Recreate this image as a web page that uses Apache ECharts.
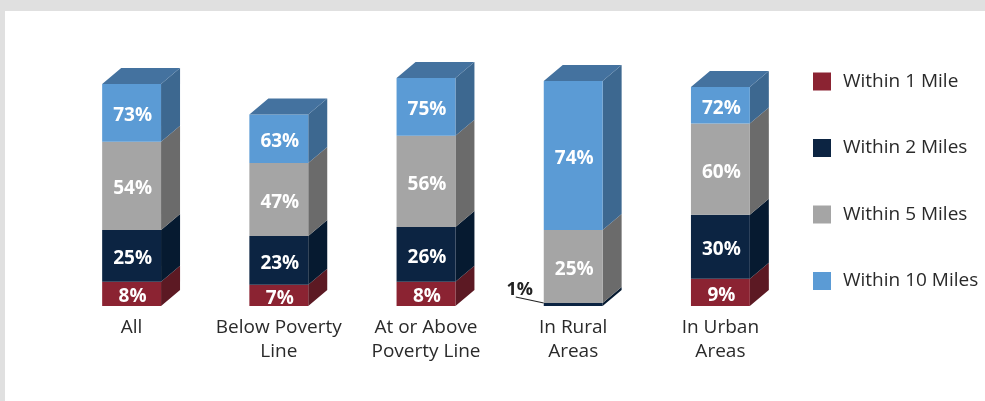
<!DOCTYPE html>
<html>
<head>
<meta charset="utf-8">
<script src="https://cdn.jsdelivr.net/npm/echarts@6/dist/echarts.min.js"></script>
<style>
html,body{margin:0;padding:0;background:#e0e0e0;}
#panel{position:absolute;left:5px;top:11px;width:980px;height:390px;background:#fff;}
#chart{position:absolute;left:0;top:0;width:985px;height:401px;}
</style>
</head>
<body>
<div id="panel"></div>
<div id="chart"></div>
<script>
// Categories and cumulative percentages
const categories = ['All', 'Below Poverty\nLine', 'At or Above\nPoverty Line', 'In Rural\nAreas', 'In Urban\nAreas'];
const seriesNames = ['Within 1 Mile', 'Within 2 Miles', 'Within 5 Miles', 'Within 10 Miles'];
const within1Mile = [8, 7, 8, 0, 9];
const within2Miles = [25, 23, 26, 1, 30];
const within5Miles = [54, 47, 56, 25, 60];
const within10Miles = [73, 63, 75, 74, 72];

const cumulative = [within1Mile, within2Miles, within5Miles, within10Miles];
const frontColors = ['#8b2332', '#0c2442', '#a5a5a5', '#5b9bd5'];
const sideColors = ['#5c1923', '#061a30', '#6b6b6b', '#3d6890'];
const topColors = ['#6e1e2a', '#0a2038', '#8a8a8a', '#44729f'];
const DX = 19, DY = 16;

function makeRender(si) {
  return function (params, api) {
    const ci = api.value(0), lo = api.value(1), hi = api.value(2), isTop = api.value(3);
    if (hi - lo <= 0) return null;
    const p0 = api.coord([ci, lo]);
    const p1 = api.coord([ci, hi]);
    const w = api.size([1, 0])[0] * 0.4;
    const x0 = p0[0] - w / 2, x1 = p0[0] + w / 2;
    const yb = p0[1], yt = p1[1];
    const children = [
      {type: 'polygon', shape: {points: [[x1, yb], [x1 + DX, yb - DY], [x1 + DX, yt - DY], [x1, yt]]},
        style: {fill: sideColors[si]}},
      {type: 'rect', shape: {x: x0, y: yt, width: w, height: yb - yt}, style: {fill: frontColors[si]}}
    ];
    if (isTop) {
      children.push({type: 'polygon', shape: {points: [[x0, yt], [x0 + DX, yt - DY], [x1 + DX, yt - DY], [x1, yt]]},
        style: {fill: topColors[si]}});
    }
    const txt = hi + '%';
    if (yb - yt < 12) {
      children.push({type: 'line', shape: {x1: x0 - 28, y1: yb - 9, x2: x0, y2: yb - 3},
        style: {stroke: '#222', lineWidth: 1.2}});
      children.push({type: 'text', style: {text: txt, x: x0 - 24, y: yb - 16, align: 'center', verticalAlign: 'middle',
        fill: '#222', font: 'bold 18px "Open Sans", sans-serif'}});
    } else {
      children.push({type: 'text', style: {text: txt, x: (x0 + x1) / 2 + 1, y: (yt + yb) / 2 + 3, align: 'center', verticalAlign: 'middle',
        fill: '#fff', font: 'bold 19px "Open Sans", sans-serif'}});
    }
    return {type: 'group', children: children};
  };
}

const series = seriesNames.map(function (name, si) {
  const data = categories.map(function (c, ci) {
    const lo = si === 0 ? 0 : cumulative[si - 1][ci];
    const hi = cumulative[si][ci];
    const isTop = si === seriesNames.length - 1 ? 1 : 0;
    return [ci, lo, hi, isTop];
  });
  return {
    type: 'custom',
    name: name,
    renderItem: makeRender(si),
    itemStyle: {color: frontColors[si]},
    encode: {x: 0, y: [1, 2]},
    data: data,
    z: 2
  };
});

const chart = echarts.init(document.getElementById('chart'));
chart.setOption({
  animation: false,
  backgroundColor: 'transparent',
  grid: {left: 58, right: 191, top: 2, bottom: 95},
  xAxis: {
    type: 'category', data: categories,
    axisLine: {show: false}, axisTick: {show: false},
    axisLabel: {margin: 10, fontSize: 19, color: '#2a2a2a', lineHeight: 24, fontFamily: '"Open Sans", sans-serif', interval: 0}
  },
  yAxis: {type: 'value', min: 0, max: 100, show: false, splitLine: {show: false}},
  legend: {
    orient: 'vertical', left: 813, top: 72, padding: 0, itemWidth: 18, itemHeight: 18, itemGap: 47.5, icon: 'rect',
    textStyle: {fontSize: 19, color: '#2a2a2a', fontFamily: '"Open Sans", sans-serif', padding: [0, 0, 0, 7]},
    data: seriesNames
  },
  series: series
});
</script>
</body>
</html>
